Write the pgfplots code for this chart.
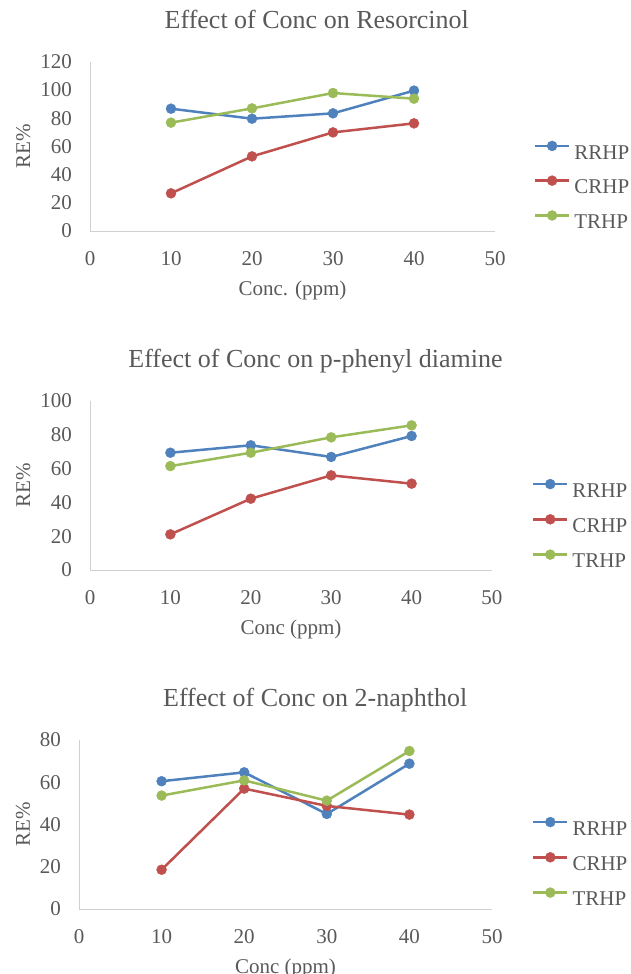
\documentclass[border=0pt]{standalone}
\usepackage{fontspec}
\setmainfont{Liberation Serif}
\usepackage{pgfplots}
\pgfplotsset{compat=1.18}
\definecolor{txtgray}{HTML}{595959}
\definecolor{axgray}{HTML}{D0D0D0}
\definecolor{cblue}{HTML}{4F81BD}
\definecolor{cred}{HTML}{C0504D}
\definecolor{cgreen}{HTML}{9BBB59}
\pgfplotsset{
  excel/.style={
    scale only axis,
    anchor=south west,
    xmin=0, xmax=50, ymin=0,
    xtick={0,10,...,50},
    axis x line=bottom, axis y line=left,
    axis line style={draw=axgray, line width=1pt, -},
    major tick length=0pt,
    /pgf/number format/assume math mode=true,
    tick label style={font=\fontsize{21}{25}\selectfont, text=txtgray},
    xticklabel shift=17pt,
    yticklabel shift=14.5pt,
    label style={font=\fontsize{21}{25}\selectfont, text=txtgray},
    title style={font=\fontsize{26}{31}\selectfont, text=txtgray, anchor=base},
    xlabel style={at={(axis description cs:0.5,0)}, anchor=base, yshift=-64pt},
    legend style={draw=none, fill=none, inner sep=0pt, outer sep=0pt, anchor=north west, row sep=15.1pt, font=\fontsize{21}{25}\selectfont, text=txtgray, nodes={inner sep=0pt}},
    legend cell align=left,
    legend image code/.code={\draw[mark repeat=2,mark phase=2,##1] plot coordinates {(0pt,7pt)(17pt,7pt)(34pt,7pt)}; \path (38pt,7pt);},
    every axis plot/.append style={line width=2.5pt, mark=*, mark size=5pt, mark options={line width=0.4pt}},
    clip=false,
  },
}
\begin{document}
\begin{tikzpicture}
\path[use as bounding box] (0,0) rectangle (630pt,-974pt);
% Chart 1
\begin{axis}[excel, at={(90pt,-231pt)}, width=405pt, height=169.3pt,
  ymax=120, ytick={0,20,...,120},
  title={Effect of Conc on Resorcinol},
  title style={at={(axis description cs:0.56,1.16)}},
  xlabel={Conc. (ppm)}, ylabel={RE\%},
  ylabel style={at={(axis description cs:-0.148,0.5)}, anchor=base},
  legend style={at={(axis description cs:1.096,0.532)}}]
\addplot[cblue] coordinates {(10,86.7)(20,79.6)(30,83.4)(40,99.5)};
\addplot[cred] coordinates {(10,26.7)(20,52.9)(30,69.9)(40,76.3)};
\addplot[cgreen] coordinates {(10,76.8)(20,86.9)(30,97.8)(40,93.8)};
\legend{RRHP,CRHP,TRHP}
\end{axis}
% Chart 2
\begin{axis}[excel, at={(90pt,-570pt)}, width=402pt, height=169pt,
  ymax=100, ytick={0,20,...,100},
  title={Effect of Conc on p-phenyl diamine},
  title style={at={(axis description cs:0.561,1.163)}},
  xlabel={Conc (ppm)}, ylabel={RE\%},
  ylabel style={at={(axis description cs:-0.149,0.5)}, anchor=base},
  legend style={at={(axis description cs:1.0995,0.538)}, row sep=15.6pt}]
\addplot[cblue] coordinates {(10,69.4)(20,73.8)(30,66.9)(40,79.3)};
\addplot[cred] coordinates {(10,21.1)(20,42.2)(30,56.0)(40,51.1)};
\addplot[cgreen] coordinates {(10,61.5)(20,69.4)(30,78.5)(40,85.6)};
\legend{RRHP,CRHP,TRHP}
\end{axis}
% Chart 3
\begin{axis}[excel, at={(79pt,-909pt)}, width=413pt, height=169pt,
  ymax=80, ytick={0,20,...,80},
  title={Effect of Conc on 2-naphthol},
  title style={at={(axis description cs:0.572,1.162)}},
  xlabel={Conc (ppm)}, ylabel={RE\%},
  ylabel style={at={(axis description cs:-0.119,0.5)}, anchor=base},
  legend style={at={(axis description cs:1.097,0.544)}, row sep=15.6pt}]
\addplot[cblue] coordinates {(10,60.5)(20,64.7)(30,45.0)(40,68.8)};
\addplot[cred] coordinates {(10,18.6)(20,57.0)(30,48.8)(40,44.7)};
\addplot[cgreen] coordinates {(10,53.7)(20,60.9)(30,51.3)(40,74.8)};
\legend{RRHP,CRHP,TRHP}
\end{axis}
\end{tikzpicture}
\end{document}
